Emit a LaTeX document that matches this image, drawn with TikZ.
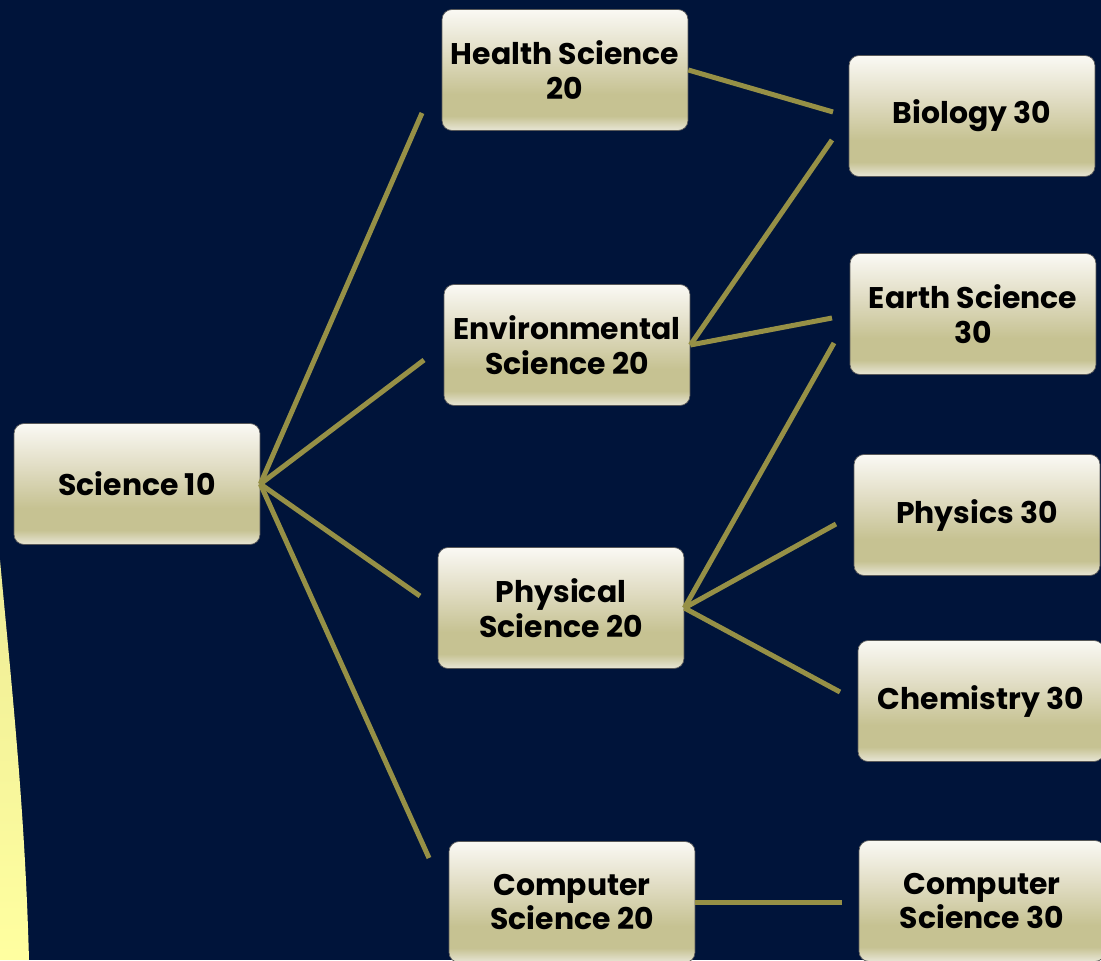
\documentclass[tikz,border=0pt]{standalone}
\usepackage{fontspec}
\setmainfont{Poppins}
\usepackage{xcolor}
\usetikzlibrary{shapes,positioning,calc}

\definecolor{navy}{RGB}{0,20,58}
\definecolor{olive}{RGB}{150,144,70}
\definecolor{khaki}{RGB}{198,194,146}
\definecolor{cream}{RGB}{226,222,198}
\definecolor{paper}{RGB}{250,249,244}
\definecolor{lowlight}{RGB}{232,230,214}
\definecolor{glowA}{RGB}{238,236,150}
\definecolor{glowB}{RGB}{255,255,160}

\pgfdeclareverticalshading{boxshade}{100bp}{color(0bp)=(lowlight); color(25bp)=(lowlight); color(31bp)=(khaki); color(40bp)=(khaki); color(58bp)=(cream); color(75bp)=(paper); color(100bp)=(paper)}

\tikzset{
  course/.style={rectangle, rounded corners=0.2cm, draw=gray!70!black, line width=0.4pt,
    shading=boxshade, minimum width=4.92cm, minimum height=2.42cm,
    align=center, font=\fontsize{17}{19.8}\selectfont\bfseries, text=black},
  link/.style={draw=olive, line width=0.1cm}
}

\begin{document}
\begin{tikzpicture}[x=0.02cm, y=-0.02cm]
\useasboundingbox (0,0) rectangle (1101,960);
\fill[navy] (0,0) rectangle (1101,960);
\shade[top color=glowA, bottom color=glowB] (0,560) .. controls (12,690) and (25,810) .. (29,960) -- (0,960) -- cycle;

\node[course] (sci10) at (137,484) {Science 10};

\node[course] (hs20) at (565,70) {Health Science\\20};
\node[course] (env20) at (567,345) {Environmental\\Science 20};
\node[course] (phys20) at (561,608) {Physical\\Science 20};
\node[course] (cs20) at (572,902) {Computer\\Science 20};

\node[course] (bio30) at (972,116) {Biology 30};
\node[course] (earth30) at (973,314) {Earth Science\\30};
\node[course] (phys30) at (977,515) {Physics 30};
\node[course] (chem30) at (981,701) {Chemistry 30};
\node[course] (cs30) at (982,901) {Computer\\Science 30};

% loose ends of the connectors
\coordinate (toHs) at (422,113);
\coordinate (toEnv) at (424,360);
\coordinate (toPhys) at (420,596);
\coordinate (toCs) at (429,858);
\coordinate (hsBio) at (833,112);
\coordinate (envBio) at (832,140);
\coordinate (envEarth) at (832,318);
\coordinate (physEarth) at (834,343);
\coordinate (physPhys) at (836,524);
\coordinate (physChem) at (840,692);
\coordinate (csCs) at (842,902);

\draw[link] (sci10.east) -- (toHs);
\draw[link] (sci10.east) -- (toEnv);
\draw[link] (sci10.east) -- (toPhys);
\draw[link] (sci10.east) -- (toCs);

\draw[link] (hs20.east) -- (hsBio);
\draw[link] (env20.east) -- (envBio);
\draw[link] (env20.east) -- (envEarth);
\draw[link] (phys20.east) -- (physEarth);
\draw[link] (phys20.east) -- (physPhys);
\draw[link] (phys20.east) -- (physChem);
\draw[link] (cs20.east) -- (csCs);
\end{tikzpicture}
\end{document}
